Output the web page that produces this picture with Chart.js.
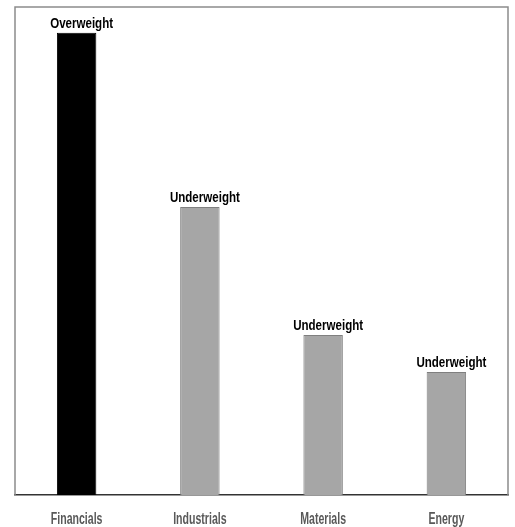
<!DOCTYPE html>
<html>
<head>
<meta charset="utf-8">
<script src="https://cdn.jsdelivr.net/npm/chart.js@4/dist/chart.umd.min.js"></script>
<style>
  html, body { margin: 0; padding: 0; background: #ffffff; }
  #wrap { width: 515px; height: 527px; }
</style>
</head>
<body>
<div id="wrap"><canvas id="c"></canvas></div>
<script>
// Sector positioning
const categories = ['Financials', 'Industrials', 'Materials', 'Energy'];
const weights = [94.7, 59.0, 32.8, 25.2];
const stances = ['Overweight', 'Underweight', 'Underweight', 'Underweight'];
const fills = ['#000000', '#a6a6a6', '#a6a6a6', '#a6a6a6'];
const edges = ['#000000', '#7f7f7f', '#7f7f7f', '#7f7f7f'];

const FONT = "'Liberation Sans', Arial, sans-serif";

// Draw condensed text by squeezing it horizontally around its centre
function narrowText(ctx, text, x, y, squeeze) {
  ctx.save();
  ctx.translate(x, y);
  ctx.scale(squeeze, 1);
  ctx.fillText(text, 0, 0);
  ctx.restore();
}

// Grey frame around the plot area
const framePlugin = {
  id: 'frame',
  beforeDatasetsDraw(chart) {
    const { ctx, chartArea: a } = chart;
    ctx.save();
    ctx.strokeStyle = '#8c8c8c';
    ctx.lineWidth = 1.5;
    ctx.beginPath();
    ctx.moveTo(a.left, a.bottom);
    ctx.lineTo(a.left, a.top);
    ctx.lineTo(a.right, a.top);
    ctx.lineTo(a.right, a.bottom);
    ctx.stroke();
    ctx.restore();
  }
};

// Stance text above each bar, and category names under the axis
const textPlugin = {
  id: 'texts',
  afterDatasetsDraw(chart) {
    const { ctx } = chart;
    const meta = chart.getDatasetMeta(0);
    ctx.save();
    ctx.textAlign = 'center';
    ctx.textBaseline = 'alphabetic';
    ctx.font = 'bold 15px ' + FONT;
    ctx.fillStyle = '#000000';
    meta.data.forEach((bar, i) => {
      narrowText(ctx, stances[i], bar.x + 5, bar.y - 5, 0.77);
    });
    const xs = chart.scales.x;
    ctx.font = 'bold 16px ' + FONT;
    ctx.fillStyle = '#595959';
    xs.ticks.forEach((t, i) => {
      narrowText(ctx, xs.getLabelForValue(t.value), xs.getPixelForTick(i), xs.top + 29, 0.66);
    });
    ctx.restore();
  }
};

new Chart(document.getElementById('c'), {
  type: 'bar',
  data: {
    labels: categories,
    datasets: [{
      data: weights,
      backgroundColor: fills,
      borderColor: edges,
      borderWidth: 1,
      barPercentage: 0.32,
      categoryPercentage: 1.0
    }]
  },
  options: {
    responsive: true,
    maintainAspectRatio: false,
    animation: false,
    layout: { padding: { left: 15, right: 7, top: 7, bottom: 0 } },
    plugins: { legend: { display: false }, tooltip: { enabled: false } },
    scales: {
      y: { display: false, min: 0, max: 100 },
      x: {
        grid: { display: false },
        border: { display: true, color: '#333333', width: 1.5 },
        ticks: { display: false },
        afterFit(scale) { scale.height = 32; }
      }
    }
  },
  plugins: [framePlugin, textPlugin]
});
</script>
</body>
</html>
